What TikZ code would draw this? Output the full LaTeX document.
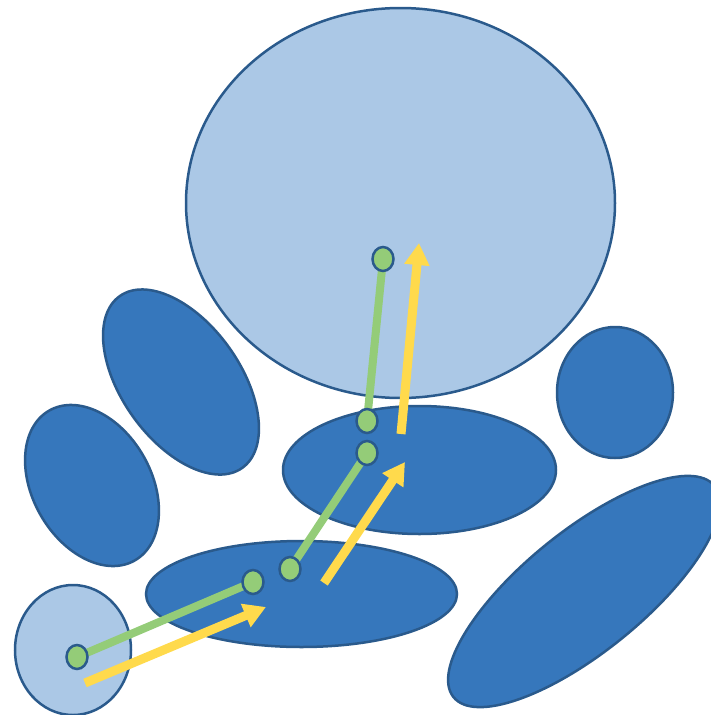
\documentclass[tikz,border=0pt]{standalone}
\usetikzlibrary{arrows.meta,shapes.geometric}
\definecolor{lightblob}{HTML}{ABC8E6}
\definecolor{darkblob}{HTML}{3677BC}
\definecolor{blobline}{HTML}{2A5A8C}
\definecolor{greenpt}{HTML}{94CC78}
\definecolor{yellowarr}{HTML}{FFDA4C}
\tikzset{
  lightshape/.style={fill=lightblob, draw=blobline, line width=2.5pt},
  darkshape/.style={fill=darkblob, draw=blobline, line width=2.5pt},
  greenlink/.style={draw=greenpt, line width=8pt},
  greendot/.style={ellipse, fill=greenpt, draw=blobline, line width=2.5pt,
    minimum width=21pt, minimum height=24pt, inner sep=0pt},
  yarrow/.style={draw=yellowarr, line width=9pt,
    -{Triangle[length=22pt,width=24pt]}}
}
\begin{document}
\begin{tikzpicture}[x=1pt,y=1pt]
\useasboundingbox (0,-715) rectangle (711,0);
\clip (0,-715) rectangle (711,0);
% large shapes
\draw[lightshape] (400.5,-203) ellipse [x radius=214.5pt, y radius=195pt];
\draw[darkshape, rotate around={125.5:(181,-382)}] (181,-382) ellipse [x radius=105.5pt, y radius=59.2pt];
\draw[darkshape, rotate around={119.7:(92,-485.5)}] (92,-485.5) ellipse [x radius=86.3pt, y radius=59.3pt];
\draw[darkshape] (615,-392.5) ellipse [x radius=58pt, y radius=65.5pt];
\draw[darkshape] (419.5,-470) ellipse [x radius=136.5pt, y radius=64pt];
\draw[darkshape] (301.5,-594) ellipse [x radius=155.5pt, y radius=53pt];
\draw[darkshape, rotate around={39:(584,-591.5)}] (584,-591.5) ellipse [x radius=167.9pt, y radius=60.3pt];
\draw[lightshape] (73,-650) ellipse [x radius=58pt, y radius=65pt];
% green points
\coordinate (p1) at (77,-657);
\coordinate (p2) at (253,-582);
\coordinate (p3) at (290,-569);
\coordinate (p4) at (367,-453);
\coordinate (p5) at (367,-421);
\coordinate (p6) at (383,-259);
\draw[greenlink] (p1) -- (p2);
\draw[greenlink] (p3) -- (p4);
\draw[greenlink] (p5) -- (p6);
\node[greendot] (g1) at (p1) {};
\node[greendot] (g2) at (p2) {};
\node[greendot] (g3) at (p3) {};
\node[greendot] (g4) at (p4) {};
\node[greendot] (g5) at (p5) {};
\node[greendot] (g6) at (p6) {};
% yellow arrows
\coordinate (a1s) at (85,-683);
\coordinate (a1e) at (266,-607);
\coordinate (a2s) at (324,-583);
\coordinate (a2e) at (405,-462);
\coordinate (a3s) at (401,-434);
\coordinate (a3e) at (419,-243);
\draw[yarrow] (a1s) -- (a1e);
\draw[yarrow] (a2s) -- (a2e);
\draw[yarrow] (a3s) -- (a3e);
\end{tikzpicture}
\end{document}
